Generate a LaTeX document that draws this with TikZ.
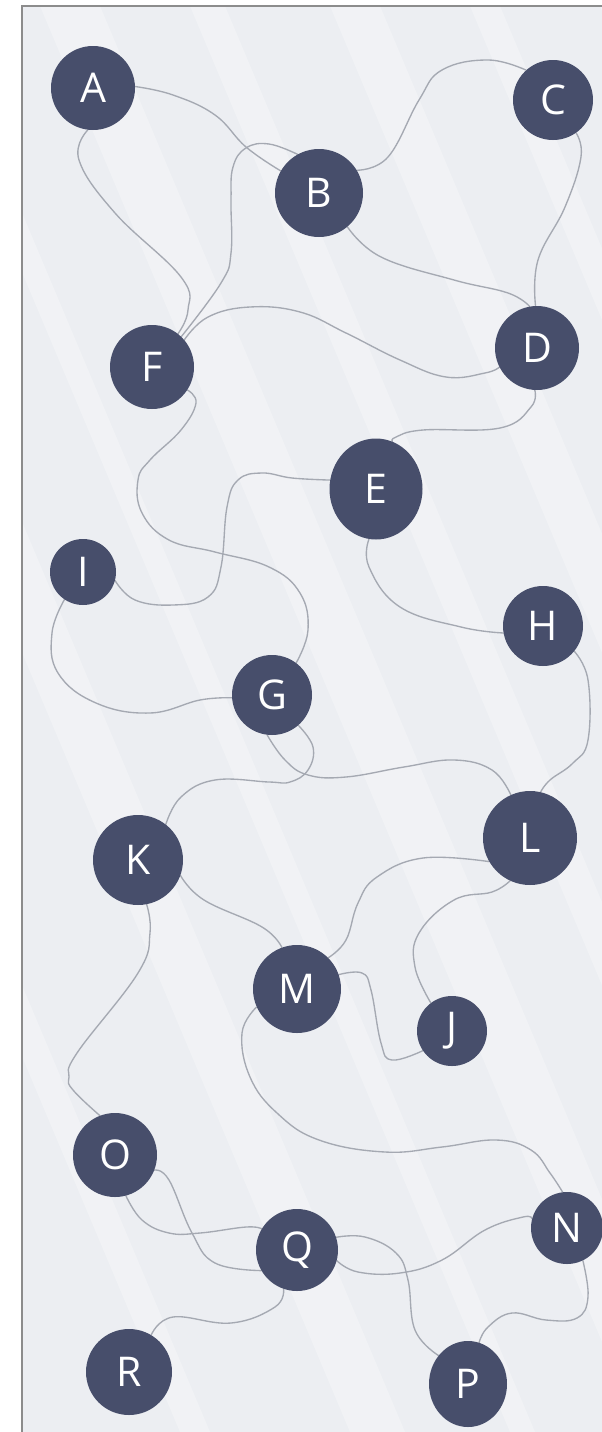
\documentclass[tikz,border=0pt]{standalone}
\usepackage{fontspec}
\setmainfont{Open Sans}
\usetikzlibrary{shapes.geometric}
\pgfdeclarelayer{bg}
\pgfdeclarelayer{paper}
\pgfsetlayers{paper,bg,main}
\definecolor{nodefill}{HTML}{474E6B}
\definecolor{edgecol}{HTML}{A5A9B2}
\definecolor{paperbg}{HTML}{ECEEF2}
\definecolor{framecol}{HTML}{8C8C8C}
\tikzset{
  blob/.style={circle, fill=nodefill, draw=none, inner sep=0pt, text=white,
    font=\fontsize{41}{41}\selectfont},
  edge/.style={draw=edgecol, line width=1.35pt, line cap=round},
  streak/.style={fill=white, opacity=0.28},
}
\begin{document}
\begin{tikzpicture}[x=1pt,y=-1pt]
\useasboundingbox (0,0) rectangle (602,1432);
\clip (0,0) rectangle (602,1432);
\begin{pgfonlayer}{paper}
\fill[white] (0,0) rectangle (602,1432);
\fill[paperbg] (22,6) rectangle (602,1432);
\foreach \s/\w in {-420/30,-250/55,-90/25,40/60,190/35,330/50,470/30,600/45,760/30}{
  \fill[streak] (\s,6) -- (\s+\w,6) -- (\s+\w+600,1432) -- (\s+600,1432) -- cycle;
}
\draw[framecol, line width=1.6pt] (22,1432) -- (22,6) -- (602,6);
\end{pgfonlayer}

\node[blob, minimum size=84pt] (A) at (93,88) {A};
\node[blob, minimum size=88pt] (B) at (319,193) {B};
\node[blob, minimum size=80pt] (C) at (553,100) {C};
\node[blob, minimum size=84pt] (D) at (537,348) {D};
\node[blob, minimum size=84pt] (F) at (152,367) {F};
\node[blob, ellipse, minimum width=93pt, minimum height=101pt] (E) at (376,489) {E};
\node[blob, minimum size=66pt] (I) at (83,572) {I};
\node[blob, minimum size=80pt] (H) at (543,626) {H};
\node[blob, minimum size=80pt] (G) at (272,695) {G};
\node[blob, minimum size=90pt] (K) at (138,860) {K};
\node[blob, minimum size=94pt] (L) at (530,838) {L};
\node[blob, minimum size=88pt] (M) at (297,989) {M};
\node[blob, minimum size=70pt] (J) at (452,1031) {J};
\node[blob, minimum size=84pt] (O) at (115,1155) {O};
\node[blob, minimum size=82pt] (Q) at (297,1250) {Q};
\node[blob, minimum size=72pt] (N) at (567,1228) {N};
\node[blob, minimum size=86pt] (R) at (129,1372) {R};
\node[blob, ellipse, minimum width=78pt, minimum height=86pt] (P) at (468,1384) {P};

\begin{pgfonlayer}{bg}
\draw[edge] plot[smooth, tension=0.7] coordinates {(A.2) (173,95) (215,115) (246,147) (B.150)};
\draw[edge] plot[smooth, tension=0.7] coordinates {(A.263) (79,160) (115,213) (181,277) (188,310) (F.52)};
\draw[edge] plot[smooth, tension=0.7] coordinates {(B.119) (269,144) (246,148) (233,167) (231,200) (231,253) (221,283) (F.46)};
\draw[edge] plot[smooth, tension=0.7] coordinates {(B.31) (388,157) (419,100) (442,70) (488,60) (C.132)};
\draw[edge] plot[smooth, tension=0.7] coordinates {(B.310) (381,257) (454,280) (508,293) (D.100)};
\draw[edge] plot[smooth, tension=0.7] coordinates {(C.305) (581,157) (565,207) (538,260) (D.92)};
\draw[edge] plot[smooth, tension=0.7] coordinates {(F.40) (208,317) (250,307) (300,312) (346,333) (400,360) (446,377) (485,373) (D.207)};
\draw[edge] plot[smooth, tension=0.7] coordinates {(F.327) (196,403) (181,430) (150,460) (138,480) (142,513) (169,540) (215,552) (269,567) (300,593) (308,630) (G.53)};
\draw[edge] plot[smooth, tension=0.7] coordinates {(D.267) (531,407) (500,428) (423,430) (396,437) (E.71)};
\draw[edge] plot[smooth, tension=0.7] coordinates {(E.169) (292,478) (262,473) (238,480) (227,507) (221,567) (208,597) (173,605) (135,600) (I.345)};
\draw[edge] plot[smooth, tension=0.7] coordinates {(E.262) (369,567) (400,607) (461,627) (H.190)};
\draw[edge] plot[smooth, tension=0.7] coordinates {(I.236) (52,633) (58,673) (96,703) (150,713) (200,700) (G.184)};
\draw[edge] plot[smooth, tension=0.7] coordinates {(G.311) (313,747) (308,770) (290,782) (269,782) (215,780) (181,797) (K.52)};
\draw[edge] plot[smooth, tension=0.7] coordinates {(G.263) (285,760) (308,775) (346,777) (404,767) (454,760) (492,770) (L.114)};
\draw[edge] plot[smooth, tension=0.7] coordinates {(H.321) (588,680) (588,740) (573,763) (550,780) (L.77)};
\draw[edge] plot[smooth, tension=0.7] coordinates {(K.340) (204,900) (262,927) (M.110)};
\draw[edge] plot[smooth, tension=0.7] coordinates {(L.210) (423,858) (377,877) (358,903) (346,940) (M.45)};
\draw[edge] plot[smooth, tension=0.7] coordinates {(L.245) (492,892) (454,900) (419,933) (415,967) (J.127)};
\draw[edge] plot[smooth, tension=0.7] coordinates {(M.19) (362,973) (371,990) (381,1043) (392,1060) (J.214)};
\draw[edge] plot[smooth, tension=0.7] coordinates {(K.281) (150,933) (138,973) (77,1053) (69,1077) (73,1090) (O.111)};
\draw[edge] plot[smooth, tension=0.7] coordinates {(M.204) (242,1033) (250,1077) (277,1113) (319,1140) (385,1152) (442,1147) (496,1140) (531,1150) (550,1173) (N.97)};
\draw[edge] plot[smooth, tension=0.7] coordinates {(O.339) (169,1180) (192,1233) (215,1263) (Q.210)};
\draw[edge] plot[smooth, tension=0.7] coordinates {(O.285) (142,1220) (169,1233) (200,1233) (246,1227) (Q.149)};
\draw[edge] plot[smooth, tension=0.7] coordinates {(Q.345) (358,1272) (400,1273) (442,1260) (485,1230) (523,1217) (N.165)};
\draw[edge] plot[smooth, tension=0.7] coordinates {(Q.18) (365,1237) (396,1253) (408,1280) (415,1330) (P.136)};
\draw[edge] plot[smooth, tension=0.7] coordinates {(Q.251) (275,1307) (231,1323) (173,1317) (R.59)};
\draw[edge] plot[smooth, tension=0.7] coordinates {(N.296) (588,1297) (577,1318) (546,1320) (512,1313) (488,1327) (P.75)};
\end{pgfonlayer}
\end{tikzpicture}
\end{document}
